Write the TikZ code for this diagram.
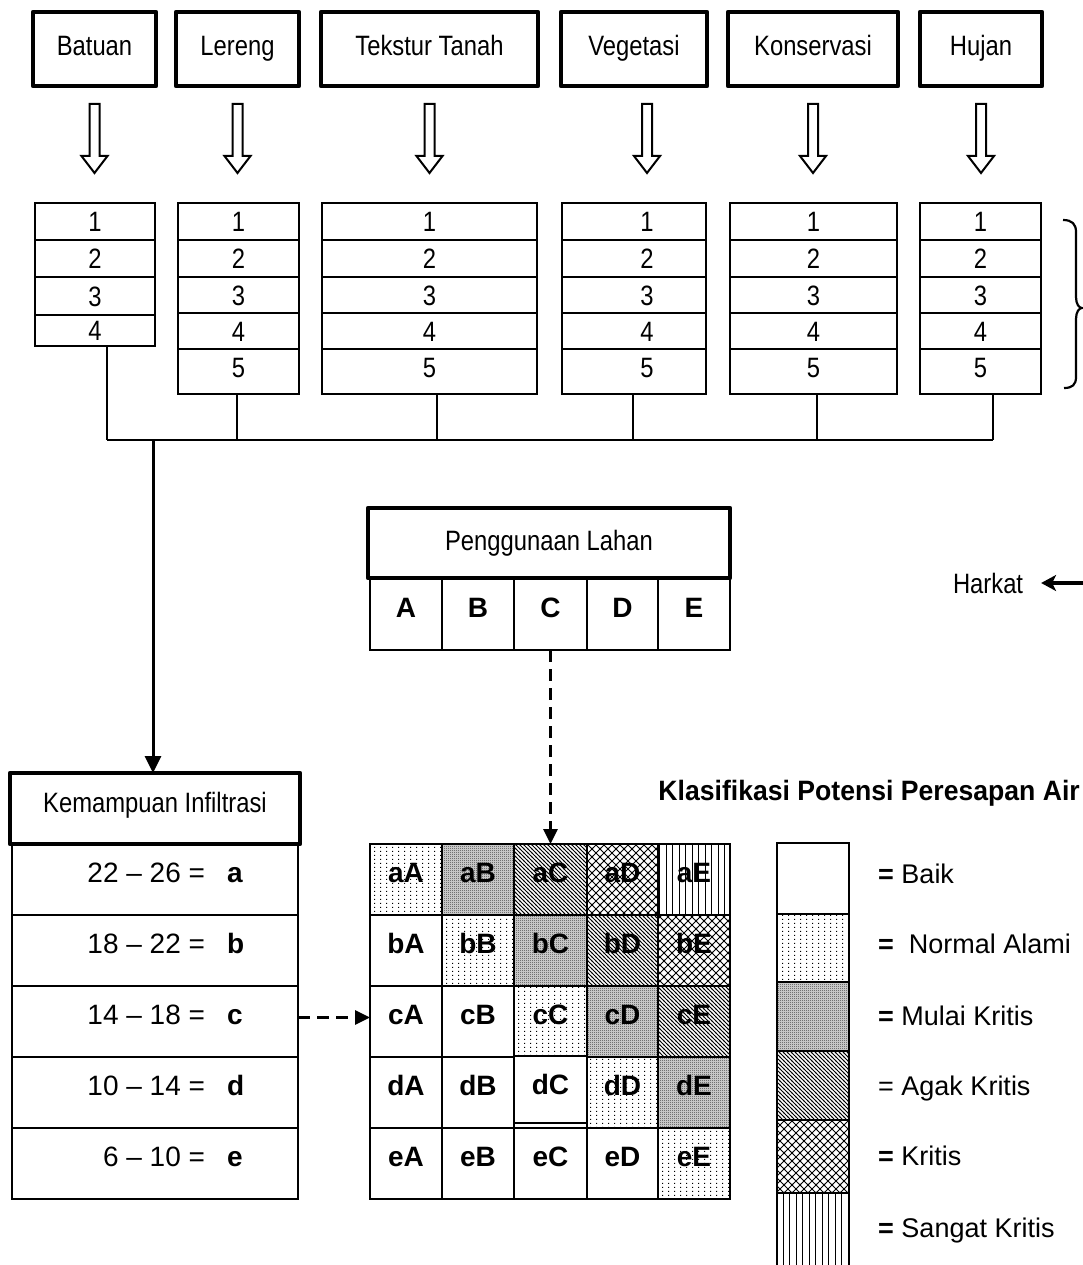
\documentclass[tikz,border=0pt]{standalone}
\usepackage{fontspec}
\setmainfont{Liberation Sans}
\newfontfamily\nar[FakeStretch=0.85]{Liberation Sans}
\newfontfamily\tit[FakeStretch=0.95]{Liberation Sans}
\usetikzlibrary{arrows.meta,patterns,calc}
\newcommand\myfs{\fontsize{28}{30}\selectfont}
\newcommand\legfs{\fontsize{27}{30}\selectfont}

\pgfdeclarepatternformonly{sdots}{\pgfqpoint{0pt}{0pt}}{\pgfqpoint{6pt}{4pt}}{\pgfqpoint{6pt}{4pt}}{%
  \pgfpathrectangle{\pgfqpoint{2.5pt}{1.5pt}}{\pgfqpoint{1.1pt}{1.1pt}}\pgfusepath{fill}}
\pgfdeclarepatternformonly{ddots}{\pgfqpoint{0pt}{0pt}}{\pgfqpoint{2pt}{2pt}}{\pgfqpoint{2pt}{2pt}}{%
  \pgfpathrectangle{\pgfqpoint{0pt}{0pt}}{\pgfqpoint{1pt}{1pt}}\pgfusepath{fill}}
\pgfdeclarepatternformonly{diagl}{\pgfqpoint{-1pt}{-1pt}}{\pgfqpoint{5pt}{5pt}}{\pgfqpoint{4pt}{4pt}}{%
  \pgfsetlinewidth{0.8pt}\pgfpathmoveto{\pgfqpoint{-1pt}{5pt}}\pgfpathlineto{\pgfqpoint{5pt}{-1pt}}\pgfusepath{stroke}}
\pgfdeclarepatternformonly{xdiag}{\pgfqpoint{-1pt}{-1pt}}{\pgfqpoint{9pt}{9pt}}{\pgfqpoint{8pt}{8pt}}{%
  \pgfsetlinewidth{0.8pt}\pgfpathmoveto{\pgfqpoint{-1pt}{-1pt}}\pgfpathlineto{\pgfqpoint{9pt}{9pt}}%
  \pgfpathmoveto{\pgfqpoint{-1pt}{9pt}}\pgfpathlineto{\pgfqpoint{9pt}{-1pt}}\pgfusepath{stroke}}
\pgfdeclarepatternformonly{vlines}{\pgfqpoint{0pt}{-1pt}}{\pgfqpoint{6.5pt}{7.5pt}}{\pgfqpoint{6.5pt}{6.5pt}}{%
  \pgfsetlinewidth{0.8pt}\pgfpathmoveto{\pgfqpoint{3.25pt}{-1pt}}\pgfpathlineto{\pgfqpoint{3.25pt}{7.5pt}}\pgfusepath{stroke}}

\tikzset{
  topbox/.style={draw, line width=4.5pt, line join=round, anchor=north west, inner sep=0pt, outer sep=0pt,
    minimum height=74pt, font=\nar\myfs, text height=20pt, text depth=6pt},
  trow/.style={draw, line width=2.5pt, anchor=north west, inner sep=0pt, outer sep=0pt,
    font=\nar\myfs, text height=20pt, text depth=0pt},
  trowl/.style={trow, text depth=9pt},
  conn/.style={line width=2.5pt},
  mainarr/.style={line width=3pt, -{Triangle[length=17pt,width=16pt]}},
  dasharr/.style={line width=3pt, dash pattern=on 12pt off 7pt, -{Triangle[length=15pt,width=14pt]}},
  harkarr/.style={line width=3.5pt, -{Stealth[length=15pt,width=16pt,inset=4pt]}},
  hollow/.pic={\draw[line width=2pt, line join=miter] (-5,0) -- (5,0) -- (5,52) -- (13,52) -- (0,69) -- (-13,52) -- (-5,52) -- cycle;},
  headbox/.style={draw, line width=4.5pt, line join=round, anchor=north west, inner sep=0pt, outer sep=0pt, font=\nar\myfs, text height=20pt},
  krow/.style={draw, line width=2.5pt, anchor=north west, inner sep=0pt, outer sep=0pt, minimum width=286pt,
    minimum height=71pt, font=\myfs, text height=20pt, text depth=15pt},
  cell/.style={draw, line width=2.5pt, anchor=north west, inner sep=0pt, outer sep=0pt, minimum height=71pt,
    font=\bfseries\myfs, text height=20pt, text depth=15pt},
  pcell/.style={draw, line width=2.5pt, anchor=north west, inner sep=0pt, outer sep=0pt, minimum height=72pt,
    font=\bfseries\myfs, text height=20pt, text depth=14pt},
  legbox/.style={draw, line width=2.5pt, anchor=north west, inner sep=0pt, outer sep=0pt, minimum width=72pt},
  legtxt/.style={anchor=base west, inner sep=0pt, font=\legfs},
  c0/.style={fill=white},
  c1/.style={pattern=sdots},
  c2/.style={preaction={fill=black!22}, pattern=ddots},
  c3/.style={pattern=diagl},
  c4/.style={pattern=xdiag},
  c5/.style={pattern=vlines},
}

\begin{document}
\begin{tikzpicture}[x=1pt,y=-1pt]
\useasboundingbox (0,0) rectangle (1083,1265);

% ---------- top factor boxes ----------
\node[topbox, minimum width=123pt] (batuan) at (33,12) {Batuan};
\node[topbox, minimum width=123pt] (lereng) at (176,12) {Lereng};
\node[topbox, minimum width=217pt] (tekstur) at (321,12) {Tekstur Tanah};
\node[topbox, minimum width=146pt] (vegetasi) at (561,12) {Vegetasi};
\node[topbox, minimum width=170pt] (konservasi) at (728,12) {Konservasi};
\node[topbox, minimum width=122pt] (hujan) at (920,12) {Hujan};

% hollow arrows
\pic at ($(batuan.south)+(0,18)$) {hollow};
\pic at ($(lereng.south)+(0,18)$) {hollow};
\pic at ($(tekstur.south)+(0,18)$) {hollow};
\pic at ($(vegetasi.south)+(13,18)$) {hollow};
\pic at ($(konservasi.south)+(0,18)$) {hollow};
\pic at ($(hujan.south)+(0,18)$) {hollow};

% ---------- score tables ----------
\node[trow, minimum width=120pt, minimum height=37pt] (t1-1) at (35,203) {1};
\node[trow, minimum width=120pt, minimum height=37pt] (t1-2) at (35,240) {2};
\node[trow, minimum width=120pt, minimum height=38pt] (t1-3) at (35,277) {3};
\node[trow, minimum width=120pt, minimum height=31pt] (t1-4) at (35,315) {4};
\foreach \t/\x/\w/\s in {2/178/121pt/0pt, 3/322/215pt/0pt, 4/562/144pt/26pt, 5/730/167pt/0pt, 6/920/121pt/0pt}{
  \node[trow, minimum width=\w, minimum height=37pt] (t\t-1) at (\x,203) {\hspace*{\s}1};
  \node[trow, minimum width=\w, minimum height=37pt] (t\t-2) at (\x,240) {\hspace*{\s}2};
  \node[trow, minimum width=\w, minimum height=36pt] (t\t-3) at (\x,277) {\hspace*{\s}3};
  \node[trow, minimum width=\w, minimum height=36pt] (t\t-4) at (\x,313) {\hspace*{\s}4};
  \node[trowl, minimum width=\w, minimum height=45pt] (t\t-5) at (\x,349) {\hspace*{\s}5};
}

% brace
\draw[line width=2.2pt] (1063,220) .. controls (1072,220) and (1076,224) .. (1076,232) -- (1076,297)
  .. controls (1076,304) and (1079,308) .. (1082,308) .. controls (1079,308) and (1076,312) .. (1076,319)
  -- (1076,377) .. controls (1076,385) and (1072,388) .. (1064,388);

% ---------- collecting connector ----------
\coordinate (busW) at (107,440);
\coordinate (busE) at (993,440);
\coordinate (busdrop) at (153,440);
\draw[conn] ([xshift=12pt]t1-4.south) -- ([xshift=12pt]t1-4.south |- busW);
\draw[conn] ([xshift=-1.5pt]t2-5.south) -- ([xshift=-1.5pt]t2-5.south |- busW);
\draw[conn] ([xshift=7.5pt]t3-5.south) -- ([xshift=7.5pt]t3-5.south |- busW);
\draw[conn] ([xshift=-1pt]t4-5.south) -- ([xshift=-1pt]t4-5.south |- busW);
\draw[conn] ([xshift=3.5pt]t5-5.south) -- ([xshift=3.5pt]t5-5.south |- busW);
\draw[conn] ([xshift=12.5pt]t6-5.south) -- ([xshift=12.5pt]t6-5.south |- busW);
\draw[conn] (busW) -- (busE);

% ---------- Penggunaan Lahan ----------
\node[headbox, minimum width=362pt, minimum height=70pt, text depth=6pt] (plahan) at (368,508) {Penggunaan Lahan};
\node[pcell, minimum width=72pt] (p1) at (370,578) {A};
\node[pcell, minimum width=72pt] (p2) at (442,578) {B};
\node[pcell, minimum width=73pt] (p3) at (514,578) {C};
\node[pcell, minimum width=71pt] (p4) at (587,578) {D};
\node[pcell, minimum width=72pt] (p5) at (658,578) {E};

% Harkat
\node[font=\nar\myfs, text height=20pt, text depth=0pt, inner sep=0pt, outer sep=0pt, anchor=west] (harkat) at (953,583) {Harkat};
\coordinate (hkfrom) at (1090,583);
\draw[harkarr] (hkfrom) -- ([xshift=18pt]harkat.east);

% ---------- Kemampuan Infiltrasi ----------
\node[headbox, minimum width=290pt, minimum height=71pt, text depth=13pt] (kh) at (10,773) {Kemampuan Infiltrasi};
\node[krow] (k1) at (12,844) {\hspace*{22pt}\makebox[120pt][r]{22 – 26 =}\hspace{22pt}\makebox[20pt][l]{\bfseries a}};
\node[krow] (k2) at (12,915) {\hspace*{22pt}\makebox[120pt][r]{18 – 22 =}\hspace{22pt}\makebox[20pt][l]{\bfseries b}};
\node[krow] (k3) at (12,986) {\hspace*{22pt}\makebox[120pt][r]{14 – 18 =}\hspace{22pt}\makebox[20pt][l]{\bfseries c}};
\node[krow] (k4) at (12,1057) {\hspace*{22pt}\makebox[120pt][r]{10 – 14 =}\hspace{22pt}\makebox[20pt][l]{\bfseries d}};
\node[krow] (k5) at (12,1128) {\hspace*{22pt}\makebox[120pt][r]{6 – 10 =}\hspace{22pt}\makebox[20pt][l]{\bfseries e}};

\draw[mainarr] (busdrop) -- (busdrop |- kh.north);

% ---------- classification matrix ----------
\node[cell, c1, minimum width=72pt] (ga1) at (370,844) {aA};
\node[cell, c2, minimum width=72pt] (ga2) at (442,844) {aB};
\node[cell, c3, minimum width=73pt] (ga3) at (514,844) {aC};
\node[cell, c4, minimum width=71pt] (ga4) at (587,844) {aD};
\node[cell, c5, minimum width=72pt] (ga5) at (658,844) {aE};

\node[cell, c0, minimum width=72pt] (gb1) at (370,915) {bA};
\node[cell, c1, minimum width=72pt] (gb2) at (442,915) {bB};
\node[cell, c2, minimum width=73pt] (gb3) at (514,915) {bC};
\node[cell, c3, minimum width=71pt] (gb4) at (587,915) {bD};
\node[cell, c4, minimum width=72pt] (gb5) at (658,915) {bE};

\node[cell, c0, minimum width=72pt] (gc1) at (370,986) {cA};
\node[cell, c0, minimum width=72pt] (gc2) at (442,986) {cB};
\node[cell, c1, minimum width=73pt] (gc3) at (514,986) {cC};
\node[cell, c2, minimum width=71pt] (gc4) at (587,986) {cD};
\node[cell, c3, minimum width=72pt] (gc5) at (658,986) {cE};

\node[cell, c0, minimum width=72pt] (gd1) at (370,1057) {dA};
\node[cell, c0, minimum width=72pt] (gd2) at (442,1057) {dB};
\node[cell, c0, minimum width=73pt, minimum height=67pt, text depth=11pt] (gd3) at (514,1056) {dC};
\node[cell, c1, minimum width=71pt] (gd4) at (587,1057) {dD};
\node[cell, c2, minimum width=72pt] (gd5) at (658,1057) {dE};

\node[cell, c0, minimum width=72pt] (ge1) at (370,1128) {eA};
\node[cell, c0, minimum width=72pt] (ge2) at (442,1128) {eB};
\node[cell, c0, minimum width=73pt] (ge3) at (514,1128) {eC};
\node[cell, c0, minimum width=71pt] (ge4) at (587,1128) {eD};
\node[cell, c1, minimum width=72pt] (ge5) at (658,1128) {eE};

\draw[dasharr] (p3.south) -- (ga3.north);
\draw[dasharr] ([yshift=4pt]k3.east) -- ([yshift=4pt]gc1.west);

% ---------- legend ----------
\node[font=\tit\bfseries\myfs, anchor=base east, inner sep=0pt] (title) at (1080,800) {Klasifikasi Potensi Peresapan Air};
\node[legbox, c0, minimum height=71pt] (lg1) at (777,843) {};
\node[legbox, c1, minimum height=68pt] (lg2) at (777,914) {};
\node[legbox, c2, minimum height=69pt] (lg3) at (777,982) {};
\node[legbox, c3, minimum height=69pt] (lg4) at (777,1051) {};
\node[legbox, c4, minimum height=73pt] (lg5) at (777,1120) {};
\node[legbox, c5, minimum height=74pt] (lg6) at (777,1193) {};
\node[legtxt] (lt1) at (878,883) {\textbf{=} Baik};
\node[legtxt] (lt2) at (878,953) {\textbf{=}\ \ Normal Alami};
\node[legtxt] (lt3) at (878,1025) {\textbf{=} Mulai Kritis};
\node[legtxt] (lt4) at (878,1095) {= Agak Kritis};
\node[legtxt] (lt5) at (878,1165) {\textbf{=} Kritis};
\node[legtxt] (lt6) at (878,1237) {\textbf{=} Sangat Kritis};
\end{tikzpicture}
\end{document}
